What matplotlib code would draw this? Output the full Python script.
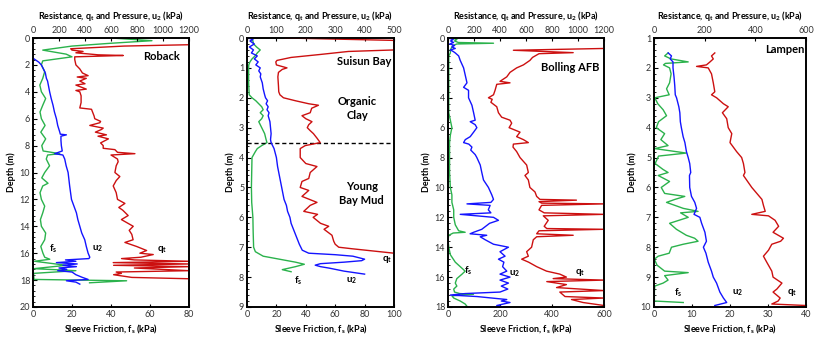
import matplotlib
matplotlib.use("Agg")
import matplotlib.pyplot as plt
from matplotlib.ticker import MultipleLocator

plt.rcParams["font.family"] = ["Lato", "DejaVu Sans"]
plt.rcParams["mathtext.default"] = "regular"

GREEN = "#2bb24c"
BLUE = "#1414ff"
RED = "#cc1010"

# ---------------- Roback ----------------
roback_fs_z = [0.0, 0.2, 0.4, 0.6, 0.9, 1.2, 1.4, 1.7, 2.0, 2.5, 3.0, 3.5, 4.0, 4.5, 5.0, 5.5,
               6.0, 6.5, 7.0, 7.5, 8.0, 8.4, 8.6, 8.7, 9.0, 9.5, 10.0, 10.4, 10.8, 11.0, 11.5,
               12.0, 12.5, 13.0, 13.5, 14.0, 14.5, 15.0, 15.5, 16.0, 16.3, 16.45, 16.6, 16.9,
               17.15, 17.3, 17.5, 17.95, 18.05, 18.2]
roback_fs = [40, 61, 39, 20, 5, 17, 20, 5, 4.3, 6, 5, 3.5, 4.3, 6.5, 5, 3.6,
             4.3, 6.2, 4.0, 6.5, 4.5, 5.2, 13.7, 7.5, 6.8, 8.5, 6.0, 4.5, 7.7, 5.0, 3.6,
             4.3, 6.0, 5.0, 3.8, 4.3, 6.5, 6.0, 4.0, 5.1, 6.0, 8.6, 0.8, 17,
             0.5, 22, 0.3, 0.5, 48, 29]

roback_u2_z = [1.5, 1.8, 2.0, 2.3, 2.6, 3.0, 3.2, 3.5, 4.0, 4.5, 5.0, 5.5, 6.0, 6.5, 7.0, 7.15,
               7.2, 7.3, 7.6, 8.0, 8.4, 8.6, 8.7, 9.0, 9.5, 10.0, 11.0, 12.0, 12.5, 13.0, 13.5,
               14.0, 14.5, 15.0, 15.5, 16.0, 16.3, 16.4, 16.5, 16.6, 16.7, 16.8, 16.9, 17.0,
               17.1, 17.2, 17.3, 17.4, 17.6, 17.8, 17.95, 18.05, 18.15, 18.3]
roback_u2 = [0, 45, 64, 80, 95, 103, 112, 118, 128, 140, 154, 165, 180, 190, 206, 210,
             257, 215, 215, 218, 225, 167, 230, 244, 255, 270, 282, 296, 315, 334, 345,
             360, 375, 398, 410, 424, 437, 430, 250, 330, 180, 340, 230, 334,
             200, 260, 190, 300, 330, 380, 424, 257, 330, 360]

roback_qt_z = [0.5, 0.6, 0.8, 0.9, 1.0, 1.1, 1.25, 1.3, 1.4, 1.6, 2.0, 2.3, 2.6, 2.8, 2.9, 3.0,
               3.2, 3.4, 3.5, 3.8, 3.9, 4.0, 4.3, 4.8, 5.2, 5.3, 5.8, 6.0, 6.2, 6.3, 6.5, 6.7,
               6.8, 7.0, 7.2, 7.3, 7.5, 7.8, 8.0, 8.2, 8.3, 8.5, 8.6, 8.7, 8.8, 9.0, 9.2, 9.5,
               10.0, 10.3, 10.6, 11.0, 11.5, 12.0, 12.3, 12.6, 12.8, 13.2, 13.5, 14.0, 14.3,
               14.6, 15.0, 15.2, 15.5, 15.8, 16.0, 16.1, 16.3, 16.4, 16.5, 16.6, 16.7, 16.8,
               16.9, 17.0, 17.1, 17.3, 17.4, 17.5, 17.6, 17.8, 17.9, 18.0]
roback_qt = [1200, 700, 290, 300, 385, 330, 500, 694, 321, 321, 330, 360, 380, 424, 340, 410,
             360, 400, 330, 410, 330, 360, 370, 370, 360, 450, 470, 475, 520, 514, 437, 540,
             527, 480, 565, 500, 580, 520, 540, 540, 630, 650, 784, 600, 617, 650, 655, 640,
             630, 668, 640, 617, 640, 650, 707, 660, 690, 732, 680, 771, 740,
             760, 770, 707, 797, 874, 822, 925, 830, 681, 780, 1200, 617, 1200,
             620, 1200, 780, 1200, 640, 680, 620, 760, 1200, 1200]

# ---------------- Suisun Bay ----------------
suisun_fs_z = [0.0, 0.1, 0.2, 0.3, 0.4, 0.5, 0.6, 0.7, 0.8, 0.9, 1.0, 1.5, 1.9, 2.0, 2.1, 2.2,
               2.3, 2.4, 2.5, 2.6, 2.7, 2.8, 2.9, 3.0, 3.1, 3.2, 3.3, 3.4, 3.5, 3.6, 3.7, 3.8,
               4.0, 4.5, 5.0, 5.5, 6.0, 6.5, 7.0, 7.15, 7.3, 7.4, 7.5, 7.57, 7.65, 7.75, 7.82]
suisun_fs = [3.5, 4.0, 4.5, 6.5, 9.0, 7.0, 5.5, 3.4, 2.0, 1.2, 1.1, 1.1, 1.5, 3.4, 6, 8,
             10, 11, 9, 11, 10, 8, 9, 10, 11, 12, 12.5, 13, 13.6, 10, 7, 5.7,
             3.4, 3.2, 3.0, 3.2, 4.0, 4.2, 4.5, 5.7, 11, 22, 33, 39, 33, 24, 30]

suisun_u2_z = [0.0, 0.05, 0.1, 0.2, 0.3, 0.4, 0.5, 0.6, 0.7, 0.8, 0.9, 1.0, 1.1, 1.2, 1.3, 1.5,
               1.7, 1.9, 2.0, 2.1, 2.2, 2.3, 2.4, 2.5, 2.6, 2.8, 3.0, 3.2, 3.4, 3.5, 3.7, 4.0,
               4.3, 4.6, 5.0, 5.2, 5.4, 5.6, 5.8, 6.0, 6.2, 6.3, 6.5, 6.7, 6.9, 7.1, 7.2, 7.25,
               7.3, 7.4, 7.45, 7.5, 7.55, 7.6, 7.65, 7.7, 7.8, 7.9]
suisun_u2 = [5, 20, 10, 25, 8, 22, 15, 35, 25, 38, 30, 45, 40, 47, 45, 52,
             55, 60, 63, 70, 65, 72, 68, 75, 72, 78, 80, 82, 80, 82, 92, 100,
             104, 110, 118, 122, 126, 134, 138, 146, 150, 154, 162, 170, 178, 188, 210, 300,
             360, 400, 390, 330, 250, 232, 250, 280, 330, 400]

suisun_qt_z = [0.0, 0.08, 0.4, 0.45, 0.55, 0.65, 0.75, 0.8, 0.9, 1.0, 1.05, 1.15, 1.3, 1.6, 1.8,
               1.9, 2.0, 2.1, 2.2, 2.25, 2.35, 2.5, 2.6, 2.7, 2.8, 2.9, 3.0, 3.1, 3.2, 3.35, 3.5,
               3.6, 3.7, 4.0, 4.2, 4.3, 4.5, 4.7, 4.8, 5.0, 5.1, 5.3, 5.5, 5.6, 5.8, 5.9, 6.0,
               6.2, 6.3, 6.4, 6.6, 6.8, 6.9, 7.0, 7.05, 7.2]
suisun_qt = [130, 500, 500, 345, 250, 150, 102, 98, 100, 136, 120, 107, 105, 107, 108,
             112, 124, 165, 210, 243, 220, 215, 187, 200, 221, 210, 205, 215, 226, 238, 249,
             198, 181, 181, 200, 238, 215, 210, 187, 181, 210, 187, 238, 215, 193, 240, 225,
             250, 278, 262, 289, 295, 300, 312, 356, 500]

# ---------------- Bolling AFB ----------------
bolling_fs_z = [0.0, 0.1, 0.2, 0.3, 0.35, 0.4, 0.5, 0.6, 0.8, 1.0, 1.2, 1.5, 2, 3, 4, 5, 5.5, 6,
                6.5, 7, 8, 9, 10, 10.5, 11, 11.5, 12, 12.5, 12.9, 13.0, 13.05, 13.2, 13.5, 14,
                14.5, 15, 15.3, 15.6, 15.8, 16.1, 16.4, 16.6, 16.8, 17.0, 17.1, 17.15, 17.25,
                17.4, 17.6, 17.8, 18.0]
bolling_fs = [15, 34, 25, 40, 175, 34, 20, 15, 9, 9, 3, 3, 3, 3, 3, 3, 9, 15,
              9, 6, 6, 6, 9, 15, 15, 22, 22, 28, 41, 66, 20, 3, 0, 3,
              9, 28, 47, 66, 54, 34, 28, 34, 22, 25, 45, 98, 15,
              22, 47, 66, 75]

bolling_u2_z = [0, 0.1, 0.2, 0.3, 0.4, 0.5, 0.6, 0.7, 0.8, 0.9, 1.0, 1.2, 1.5, 2.0, 2.5, 3.0,
                3.3, 3.5, 4.0, 4.5, 5.0, 5.5, 5.6, 5.8, 6.0, 6.3, 6.6, 6.8, 7.0, 7.1, 7.3, 7.5,
                7.8, 8.0, 8.5, 9.0, 9.5, 10.0, 10.5, 10.8, 11.0, 11.1, 11.2, 11.5, 11.7, 11.8,
                12.0, 12.2, 12.4, 12.8, 13.0, 13.1, 13.2, 13.3, 13.5, 13.8, 14.0, 14.3, 14.6,
                14.8, 15.0, 15.3, 15.6, 15.8, 16.0, 16.2, 16.4, 16.6, 16.8, 17.0, 17.1, 17.2,
                17.3, 17.5, 17.6, 17.7, 17.9, 18.0]
bolling_u2 = [5, 40, 20, 43, 13, 50, 30, 56, 18, 40, 56, 82, 94, 120, 133, 146,
              120, 158, 158, 184, 197, 209, 171, 209, 222, 197, 171, 133, 120, 160, 184, 175,
              209, 222, 248, 260, 273, 311, 337, 350, 330, 146, 324, 310, 330, 94,
              350, 388, 320, 260, 197, 170, 298, 248, 286, 350, 465, 400, 439,
              388, 430, 420, 452, 400, 477, 400, 465, 410, 460, 400, 133, 18,
              222, 452, 410, 477, 375, 420]

bolling_qt_z = [0.7, 0.82, 0.9, 0.98, 1.05, 1.3, 1.5, 1.8, 2.0, 2.3, 2.6, 2.9, 3.0, 3.1, 3.5,
                3.8, 4.0, 4.1, 4.3, 4.6, 5.0, 5.3, 5.5, 5.7, 6.0, 6.3, 6.6, 6.8, 7.0, 7.1, 7.3,
                7.6, 8.0, 8.5, 9.0, 9.2, 9.5, 10.0, 10.3, 10.6, 10.8, 10.85, 10.95, 11.05, 11.1,
                11.2, 11.5, 11.7, 11.8, 11.9, 12.2, 12.6, 12.75, 12.8, 12.9, 13.1, 13.2, 13.3,
                13.5, 14.0, 14.3, 14.6, 14.8, 15.0, 15.3, 15.6, 15.8, 16.0, 16.1, 16.2, 16.3,
                16.5, 16.7, 16.9, 17.0, 17.3, 17.4, 17.5, 17.7, 17.9]
bolling_qt = [1200, 503, 733, 963, 700, 650, 630, 580, 528, 477, 452, 400, 477, 375, 362,
              350, 311, 340, 330, 375, 388, 413, 477, 490, 470, 554, 528, 580, 618, 503, 500,
              528, 554, 605, 618, 592, 618, 630, 669, 682, 707, 988, 700, 720, 1200,
              720, 700, 740, 1200, 733, 771, 740, 760, 1200, 700, 682, 963, 682,
              656, 643, 605, 618, 567, 620, 682, 758, 860, 911, 809, 1200, 760,
              911, 835, 1200, 860, 900, 1200, 950, 1039, 1200]

# ---------------- Lampen ----------------
lampen_fs_z = [1.5, 1.6, 1.7, 1.8, 1.85, 1.9, 2.0, 2.2, 2.5, 2.7, 2.9, 3.0, 3.2, 3.4, 3.6, 3.8,
               4.0, 4.2, 4.4, 4.6, 4.7, 4.85, 4.95, 5.2, 5.4, 5.5, 5.6, 5.8, 6.0, 6.2, 6.3, 6.4,
               6.5, 6.7, 6.8, 6.85, 7.0, 7.2, 7.4, 7.6, 7.7, 7.8, 7.9, 8.0, 8.2, 8.3, 8.4, 8.6,
               8.8, 8.85, 8.95, 9.1, 9.2, 9.3, 9.5, 9.8, 9.85]
lampen_fs = [3.7, 2.8, 4.5, 9, 3, 2.5, 4.1, 4.5, 4.1, 3.3, 4.0, 0.2, 1.0, 2.4, 3.3, 1.2,
             0.6, 2.8, 1.8, 3.7, 0.2, 8.5, 1.2, 0.3, 2.4, 3.7, 1.1, 4.1, 1.9, 2.8, 8.1, 5.5,
             3.3, 7.7, 11.6, 7, 9, 4.1, 5.9, 8.5, 10.7, 11.6, 7.7, 4.6, 4.0, 1.1, 0.1, 0.8,
             2.8, 9, 2.8, 3.7, 2.4, 0.2, 0.1, 0.1, 7.7]

lampen_u2_z = [1.5, 1.6, 1.7, 1.8, 2.0, 2.3, 2.6, 2.9, 3.0, 3.3, 3.5, 3.8, 4.0, 4.3, 4.5, 4.8,
               5.0, 5.2, 5.5, 5.6, 6.0, 6.3, 6.5, 6.7, 6.9, 7.0, 7.2, 7.5, 7.8, 8.0, 8.2, 8.5,
               8.8, 9.0, 9.2, 9.5, 9.7, 9.85, 9.95]
lampen_u2 = [56, 69, 64, 75, 75, 79, 82, 84, 89, 98, 102, 104, 108, 115, 122, 128,
             135, 141, 145, 140, 141, 148, 161, 168, 158, 181, 188, 201, 207, 195, 205, 214,
             227, 234, 247, 260, 274, 287, 240]

lampen_qt_z = [1.5, 1.6, 1.7, 1.8, 1.9, 1.95, 2.0, 2.2, 2.5, 2.8, 2.9, 3.0, 3.2, 3.3, 3.5, 3.7,
               4.0, 4.2, 4.5, 4.8, 5.0, 5.2, 5.5, 5.6, 6.0, 6.2, 6.4, 6.6, 6.8, 6.9, 6.95, 7.1,
               7.3, 7.5, 7.7, 7.8, 7.9, 8.1, 8.3, 8.5, 8.8, 9.0, 9.2, 9.4, 9.5, 9.7, 9.8, 9.9,
               9.95]
lampen_qt = [240, 227, 234, 221, 207, 168, 214, 227, 234, 240, 227, 247, 274, 293, 270, 287,
             293, 307, 300, 326, 346, 353, 359, 353, 386, 406, 426, 432, 439, 386, 452, 478,
             492, 470, 511, 500, 465, 452, 432, 445, 465, 470, 505, 485, 470, 498, 490, 465,
             600]

TOP_LABEL = "Resistance, q$_t$ and Pressure, u$_2$ (kPa)"
BOT_LABEL = "Sleeve Friction, f$_s$ (kPa)"

W, H = 825, 344
fig = plt.figure(figsize=(W / 100, H / 100), dpi=100)


def panel(left_px, right_px, fs_z, fs, u2_z, u2, qt_z, qt,
          dmin, dmax, dstep, top_max, top_step, bot_max, bot_step):
    ax = fig.add_axes([left_px / W, 1 - 307 / H, (right_px - left_px) / W, 269 / H])
    ax.plot(fs, fs_z, color=GREEN, lw=1.0)
    ax.set_xlim(0, bot_max)
    ax.set_ylim(dmax, dmin)
    ax.set_xticks(range(0, bot_max + 1, bot_step))
    ax.yaxis.set_major_locator(MultipleLocator(dstep))
    ax.yaxis.set_minor_locator(MultipleLocator(dstep / 5))
    ax.tick_params(axis="both", which="both", direction="in", labelsize=6.5,
                   labelcolor="#333333", pad=2)
    ax.tick_params(axis="y", which="major", length=3)
    ax.tick_params(axis="y", which="minor", length=1.5)
    ax.tick_params(axis="x", length=2.5)
    ax.set_xlabel(BOT_LABEL, fontsize=6.5, fontweight="bold", labelpad=3)
    ax.set_ylabel("Depth (m)", fontsize=6.5, fontweight="bold", labelpad=3)

    top = ax.twiny()
    top.plot(u2, u2_z, color=BLUE, lw=1.0)
    top.plot(qt, qt_z, color=RED, lw=1.0)
    top.set_xlim(0, top_max)
    top.set_xticks(range(0, top_max + 1, top_step))
    top.tick_params(axis="x", direction="in", length=2.5, labelsize=6.5,
                    labelcolor="#333333", pad=2)
    top.set_xlabel(TOP_LABEL, fontsize=6.5, fontweight="bold", labelpad=5)
    for a in (ax, top):
        for s in a.spines.values():
            s.set_linewidth(1.2)
    return ax


ax1 = panel(33, 189, roback_fs_z, roback_fs, roback_u2_z, roback_u2, roback_qt_z, roback_qt,
            0, 20, 2, 1200, 200, 80, 20)
ax1.text(66, 1.35, "Roback", fontsize=8, fontweight="bold", ha="center", va="center")
ax1.text(10.3, 15.7, "f$_s$", fontsize=7, fontweight="bold", ha="center", va="center")
ax1.text(33.3, 15.7, "u$_2$", fontsize=7, fontweight="bold", ha="center", va="center")
ax1.text(66, 15.7, "q$_t$", fontsize=7, fontweight="bold", ha="center", va="center")

ax2 = panel(247, 394, suisun_fs_z, suisun_fs, suisun_u2_z, suisun_u2, suisun_qt_z, suisun_qt,
            0, 9, 1, 500, 100, 100, 20)
ax2.axhline(3.5, color="black", lw=1.0, ls=(0, (3, 2)))
ax2.text(80, 0.8, "Suisun Bay", fontsize=8, fontweight="bold", ha="center", va="center")
ax2.text(75, 2.35, "Organic\nClay", fontsize=8, fontweight="bold", ha="center", va="center",
         linespacing=1.3)
ax2.text(78, 5.2, "Young\nBay Mud", fontsize=8, fontweight="bold", ha="center", va="center",
         linespacing=1.3)
ax2.text(95, 7.4, "q$_t$", fontsize=7, fontweight="bold", ha="center", va="center")
ax2.text(35, 8.13, "f$_s$", fontsize=7, fontweight="bold", ha="center", va="center")
ax2.text(71, 8.13, "u$_2$", fontsize=7, fontweight="bold", ha="center", va="center")

ax3 = panel(448, 604, bolling_fs_z, bolling_fs, bolling_u2_z, bolling_u2, bolling_qt_z,
            bolling_qt, 0, 18, 2, 1200, 200, 600, 200)
ax3.text(469, 1.95, "Bolling AFB", fontsize=8, fontweight="bold", ha="center", va="center")
ax3.text(77, 15.6, "f$_s$", fontsize=7, fontweight="bold", ha="center", va="center")
ax3.text(258, 15.8, "u$_2$", fontsize=7, fontweight="bold", ha="center", va="center")
ax3.text(508, 15.7, "q$_t$", fontsize=7, fontweight="bold", ha="center", va="center")

ax4 = panel(654, 806, lampen_fs_z, lampen_fs, lampen_u2_z, lampen_u2, lampen_qt_z, lampen_qt,
            1, 10, 1, 600, 200, 40, 10)
ax4.text(34.5, 1.38, "Lampen", fontsize=8, fontweight="bold", ha="center", va="center")
ax4.text(6.3, 9.52, "f$_s$", fontsize=7, fontweight="bold", ha="center", va="center")
ax4.text(22.1, 9.52, "u$_2$", fontsize=7, fontweight="bold", ha="center", va="center")
ax4.text(36.3, 9.52, "q$_t$", fontsize=7, fontweight="bold", ha="center", va="center")

fig.savefig("out.png", dpi=100)
